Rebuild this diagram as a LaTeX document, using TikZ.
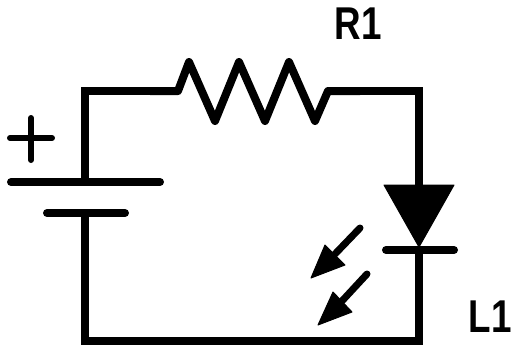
\documentclass[tikz,border=0pt]{standalone}
\usepackage{fontspec}
\setmainfont{Liberation Sans}
\tikzset{
  wire/.style={line width=8pt,line join=miter},
  zigzag/.style={line width=8pt,line join=round},
  plate/.style={line width=8pt,line cap=round},
  thin plate/.style={line width=6pt,line cap=round},
  emit/.style={line width=7pt,line cap=round},
  solid part/.style={fill=black,draw=black,line width=1pt,line join=round},
  lab/.style={font=\fontsize{46}{46}\selectfont\bfseries,inner sep=0pt,xscale=.8}
}
\begin{document}
\begin{tikzpicture}[x=1pt,y=-1pt]
\useasboundingbox (0,0) rectangle (512,351);
\coordinate (tl) at (85,91);
\coordinate (tr) at (419,91);
\coordinate (br) at (419,341);
\coordinate (bl) at (85,341);
\coordinate (rs) at (178,91);
\coordinate (re) at (328,91);
\coordinate (bt) at (85,182);
\coordinate (bb) at (85,213);
\coordinate (da) at (419,185);
\coordinate (dc) at (419,250);
% wires
\draw[wire] (bt) -- (tl) -- (150,91);
\draw[zigzag] (150,91) -- (rs)
  -- (189,62) -- (215,121) -- (239,62) -- (265,121) -- (289,62) -- (315,121) -- (re) -- (360,91);
\draw[wire] (360,91) -- (tr) -- (da);
\draw[wire] (dc) -- (br) -- (bl) -- (bb);
% battery
\draw[plate] (11,182) -- (160,182);
\draw[plate] (47,213) -- (125,213);
\draw[thin plate] (10,138) -- (52,138);
\draw[thin plate] (31,118) -- (31,160);
% LED
\draw[solid part] (384,185) -- (454,185) -- (419,247) -- cycle;
\draw[plate] (386,250) -- (454,250);
% emitted light
\draw[emit] (360,228) -- (335,254);
\draw[solid part] (311,278) -- (325,245) -- (345,265) -- cycle;
\draw[emit] (367,274) -- (342,301);
\draw[solid part] (318,325) -- (333,292) -- (352,312) -- cycle;
% labels
\node[lab] (r1) at (358,24) {R1};
\node[lab] (l1) at (490,317) {L1};
\end{tikzpicture}
\end{document}
